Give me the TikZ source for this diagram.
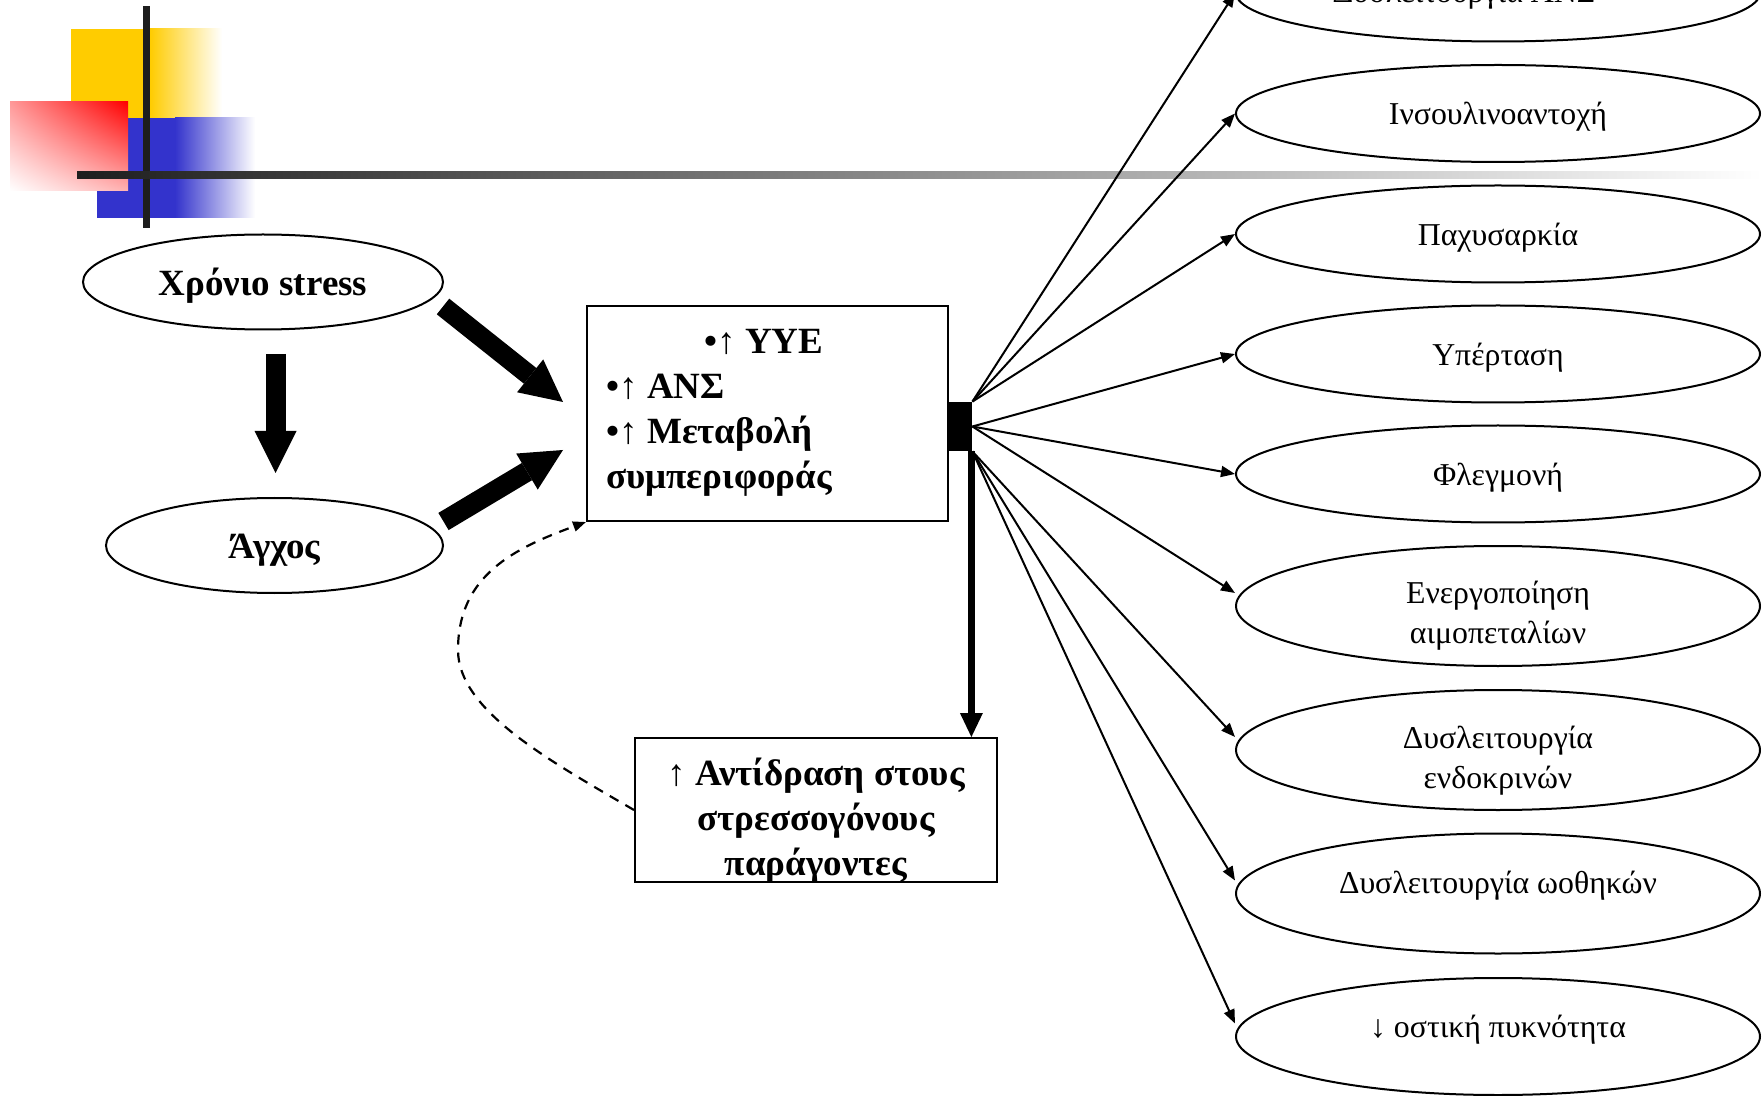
\documentclass[tikz,border=0pt]{standalone}
\usepackage{fontspec}
\setmainfont{Liberation Serif}
\usetikzlibrary{arrows.meta,calc,shapes.geometric,shadings}
\definecolor{decoyellow}{HTML}{FFCC00}
\definecolor{decoblue}{HTML}{3333CC}
\definecolor{barblack}{HTML}{1E1E1E}

\begin{document}
\begin{tikzpicture}[x=0.5pt,y=-0.5pt,
  txt/.style={font=\fontsize{15.9}{20}\selectfont, align=center, inner sep=0pt},
  oval/.style={draw, ellipse, line width=1pt, inner sep=0pt,
    minimum width=262pt, minimum height=48.5pt},
  tall/.style={oval, minimum height=60pt},
  boldtext/.style={font=\fontsize{18.5}{22.5}\selectfont\bfseries, inner sep=0pt},
  cause/.style={draw, ellipse, line width=1pt, inner sep=0pt,
    minimum height=47.5pt},
  frame/.style={draw, rectangle, line width=1pt, inner sep=0pt},
  fat/.style={line width=10pt, -{Triangle[length=21pt,width=21pt,line width=0pt]}},
  medium/.style={line width=3.5pt, -{Triangle[length=12pt,width=11.5pt,line width=0pt]}},
  thin/.style={line width=1pt, -{Triangle[length=7pt,width=5.5pt]}},
  dashline/.style={line width=1.1pt, dash pattern=on 5pt off 4pt,
    -{Triangle[length=6.5pt,width=5pt]}}
]
\useasboundingbox (0,0) rectangle (1762,1096);
\clip (0,0) rectangle (1762,1096);

% corner ornament
\fill[decoyellow] (71,29) rectangle (150,118);
\shade[left color=decoyellow, right color=white] (150,29) rectangle (222,118);
\fill[decoblue] (97,118) rectangle (175,218);
\shade[left color=decoblue, right color=white] (175,118) rectangle (255,218);
\shade[upper left=red!40, upper right=red, lower left=white, lower right=red!30]
  (10,102) rectangle (128,191);
\fill[barblack] (143,6) rectangle (150,228);
\shade[left color=barblack, middle color=black!33, right color=white]
  (77,172) rectangle (1762,179);

% consequences
\node[oval, label={[txt,xshift=-17pt,yshift=-1pt]center:Δυσλειτουργία ΑΝΣ}] (e1) at (1498,-7) {};
\node[oval, label={[txt,yshift=-1.75pt]center:Ινσουλινοαντοχή}] (e2) at (1498,113.5) {};
\node[oval, label={[txt,yshift=-1.75pt]center:Παχυσαρκία}] (e3) at (1498,234) {};
\node[oval, label={[txt,yshift=-1.75pt]center:Υπέρταση}] (e4) at (1498,354) {};
\node[oval, label={[txt,yshift=-1.75pt]center:Φλεγμονή}] (e5) at (1498,474) {};
\node[tall, label={[txt,yshift=-5pt]center:Ενεργοποίηση\\αιμοπεταλίων}] (e6) at (1498,606) {};
\node[tall, label={[txt,yshift=-5.25pt]center:Δυσλειτουργία\\ενδοκρινών}] (e7) at (1498,750) {};
\node[tall, label={[txt,yshift=3.8pt]center:Δυσλειτουργία ωοθηκών}] (e8) at (1498,893.5) {};
\node[tall, minimum height=58.5pt, label={[txt,yshift=3.3pt]center:↓ οστική πυκνότητα}] (e9) at (1498,1036.5) {};

% causes
\node[cause, minimum width=180pt, label={[boldtext,yshift=-1.7pt]center:Χρόνιο stress}] (stress) at (263,282) {};
\node[cause, minimum width=168.5pt, label={[boldtext,yshift=-2.2pt]center:Άγχος}] (anx) at (274.5,545.5) {};

% central response
\node[frame, minimum width=180.5pt, minimum height=107.5pt] (box) at (767.5,413.5) {};
\node[boldtext, align=left, anchor=west] (boxtext) at (606,412.5)
  {\hspace*{49pt}•↑ ΥΥΕ\\•↑ ΑΝΣ\\•↑ Μεταβολή\\συμπεριφοράς};
\node[fill=black, minimum width=12pt, minimum height=24.5pt, inner sep=0pt] (hub) at (960,426.5) {};

\node[frame, minimum width=181pt, minimum height=72pt] (lower) at (816,810) {};
\node[boldtext, align=center] (lowertext) at (816,820.5)
  {↑ Αντίδραση στους\\στρεσσογόνους\\παράγοντες};

% block arrows
\coordinate (d1) at (275.5,354);
\coordinate (d2) at (275.5,473);
\coordinate (s1) at (443,306.5);
\coordinate (s2) at (563,402);
\coordinate (a1) at (443.5,521.5);
\coordinate (a2) at (563,450);
\draw[fat] (d1) -- (d2);
\draw[fat] (s1) -- (s2);
\draw[fat] (a1) -- (a2);

% fan of effects
\foreach \e in {e1,e2,e3} \draw[thin] (hub.north east) -- (\e.west);
\draw[thin] (hub.east) -- (e4.west);
\draw[thin] (hub.east) -- (e5.west);
\draw[thin] (hub.east) -- ([yshift=6.5pt]e6.west);
\foreach \e in {e7,e8,e9} \draw[thin] (hub.south east) -- ([yshift=6.5pt]\e.west);

% reaction to stressors
\draw[medium] ([xshift=-0.5pt]hub.south east) -- ([xshift=-0.5pt]hub.south east |- lower.north);

% feedback loop
\coordinate (bendpt) at (458,650);
\draw[dashline] (lower.west) .. controls (548,760) and (458,710) .. (bendpt)
  .. controls (458,575) and (515,548) .. (box.south west);
\end{tikzpicture}
\end{document}
